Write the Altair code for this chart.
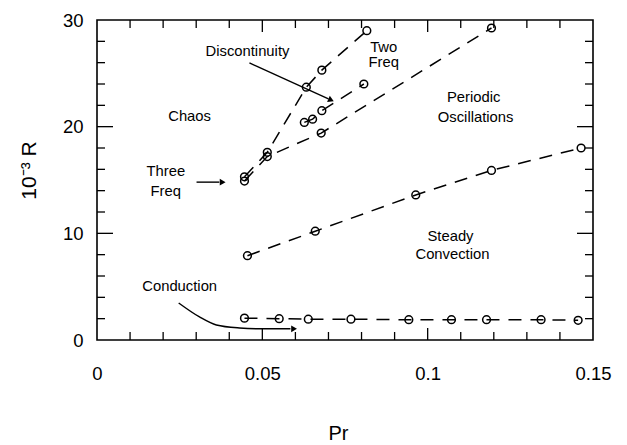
import altair as alt
import pandas as pd

# ---- data ----
cond_pr = [0.0446, 0.0551, 0.0639, 0.0768, 0.0943, 0.1072, 0.1178, 0.1343, 0.1455]
cond_r = [2.05, 2.0, 1.95, 1.95, 1.9, 1.9, 1.9, 1.9, 1.85]

steady_pr = [0.0455, 0.0660, 0.0964, 0.1193, 0.1464]
steady_r = [7.9, 10.2, 13.6, 15.9, 18.0]

two_upper_pr = [0.0446, 0.0515, 0.0633, 0.0680, 0.0816]
two_upper_r = [15.3, 17.6, 23.7, 25.3, 29.0]

two_mid_pr = [0.0627, 0.0652, 0.0680, 0.0807]
two_mid_r = [20.4, 20.7, 21.5, 24.0]

periodic_pr = [0.0446, 0.0515, 0.0678, 0.1193]
periodic_r = [14.9, 17.2, 19.4, 29.25]

# annotation labels
label_text = ["Chaos", "Discontinuity", "Two", "Freq", "Periodic", "Oscillations",
              "Three", "Freq", "Steady", "Convection", "Conduction"]
label_pr = [0.0280, 0.0455, 0.0867, 0.0867, 0.1139, 0.1145, 0.0208, 0.0208, 0.1069, 0.1075, 0.0250]
label_r = [20.9, 27.0, 27.4, 26.0, 22.7, 20.8, 15.75, 13.9, 9.66, 7.97, 4.97]

# arrows (shafts) in data units
arrow_id = ["disc", "disc", "three", "three",
            "cond", "cond", "cond", "cond", "cond", "cond"]
arrow_pr = [0.0461, 0.0700, 0.0301, 0.0370,
            0.0247, 0.0310, 0.0361, 0.0431, 0.0500, 0.0585]
arrow_r = [25.97, 22.6, 14.8, 14.8,
           3.47, 2.16, 1.41, 1.13, 1.05, 1.05]
head_pr = [0.0708, 0.0380, 0.0596]
head_r = [22.5, 14.8, 1.05]
head_angle = [24, 0, 0]

# axis ticks
x_major = [0.05, 0.1]
x_minor = [0.01, 0.02, 0.03, 0.04, 0.06, 0.07, 0.08, 0.09, 0.11, 0.12, 0.13, 0.14]
y_major = [10, 20]
y_minor = [2, 4, 6, 8, 12, 14, 16, 18, 22, 24, 26, 28]

W, H = 496, 320
FONT = "Liberation Sans"

lines = pd.DataFrame({
    "Pr": cond_pr + steady_pr + two_upper_pr + two_mid_pr + periodic_pr,
    "R": cond_r + steady_r + two_upper_r + two_mid_r + periodic_r,
    "series": (["cond"] * len(cond_pr) + ["steady"] * len(steady_pr)
               + ["upper"] * len(two_upper_pr) + ["mid"] * len(two_mid_pr)
               + ["periodic"] * len(periodic_pr)),
})

xs = alt.Scale(domain=[0, 0.15], nice=False, zero=False)
ys = alt.Scale(domain=[0, 30], nice=False, zero=False)

X = alt.X("Pr:Q", scale=xs, axis=alt.Axis(
    values=[0, 0.05, 0.1, 0.15], format="~g", title="Pr", grid=False,
    ticks=False, domain=False, labelPadding=24, labelFlush=False,
    labelFontSize=18.5, labelFont=FONT, labelColor="black",
    titleFontSize=20, titleFont=FONT, titleFontWeight="normal", titleColor="black",
    titleX=241, titleY=93, titleBaseline="middle"))
Y = alt.Y("R:Q", scale=ys, axis=alt.Axis(
    values=[0, 10, 20, 30], title="10⁻³ R", grid=False,
    ticks=False, domain=False, labelPadding=14,
    labelFontSize=18.5, labelFont=FONT, labelColor="black",
    titleFontSize=21, titleFont=FONT, titleFontWeight="normal", titleColor="black",
    titleX=-68, titleY=150, titleBaseline="middle"))

base = alt.Chart(lines)

line_layer = base.mark_line(color="black", strokeWidth=1.5, strokeDash=[13, 9]).encode(
    x=X, y=Y, detail="series:N", order="Pr:Q")
pts_layer = base.mark_point(shape="circle", filled=False, color="black", size=60,
                            strokeWidth=1.5, opacity=1).encode(
    x=alt.X("Pr:Q", scale=xs), y=alt.Y("R:Q", scale=ys))

labels = pd.DataFrame({"Pr": label_pr, "R": label_r, "t": label_text})
text_layer = alt.Chart(labels).mark_text(font=FONT, fontSize=14.8, color="black",
                                         align="center", baseline="middle").encode(
    x=alt.X("Pr:Q", scale=xs), y=alt.Y("R:Q", scale=ys), text="t:N")

arrows = pd.DataFrame({"Pr": arrow_pr, "R": arrow_r, "id": arrow_id,
                       "o": list(range(len(arrow_pr)))})
arrow_layer = alt.Chart(arrows).mark_line(color="black", strokeWidth=1.4,
                                          interpolate="monotone").encode(
    x=alt.X("Pr:Q", scale=xs), y=alt.Y("R:Q", scale=ys), detail="id:N", order="o:Q")
heads = pd.DataFrame({"Pr": head_pr, "R": head_r, "a": head_angle})
head_layer = alt.Chart(heads).mark_point(shape="triangle-right", filled=True,
                                         color="black", size=45, opacity=1).encode(
    x=alt.X("Pr:Q", scale=xs), y=alt.Y("R:Q", scale=ys),
    angle=alt.Angle("a:Q", scale=None))

def xticks(vals, length):
    d = pd.DataFrame({"Pr": vals})
    bottom = alt.Chart(d).mark_rule(color="black", strokeWidth=1.3).encode(
        x=alt.X("Pr:Q", scale=xs), y=alt.value(H), y2=alt.value(H - length))
    top = alt.Chart(d).mark_rule(color="black", strokeWidth=1.3).encode(
        x=alt.X("Pr:Q", scale=xs), y=alt.value(0), y2=alt.value(length))
    return [bottom, top]

def yticks(vals, length):
    d = pd.DataFrame({"R": vals})
    left = alt.Chart(d).mark_rule(color="black", strokeWidth=1.3).encode(
        y=alt.Y("R:Q", scale=ys), x=alt.value(0), x2=alt.value(length))
    right = alt.Chart(d).mark_rule(color="black", strokeWidth=1.3).encode(
        y=alt.Y("R:Q", scale=ys), x=alt.value(W), x2=alt.value(W - length))
    return [left, right]

tick_layers = xticks(x_major, 12) + xticks(x_minor, 8) + yticks(y_major, 16) + yticks(y_minor, 8)

chart = alt.layer(line_layer, pts_layer, text_layer, arrow_layer, head_layer,
                  *tick_layers).properties(
    width=W, height=H,
    padding={"left": 97, "top": 20, "right": 34, "bottom": 105},
    autosize=alt.AutoSizeParams(type="none"),
    background="white",
).configure_view(stroke="black", strokeWidth=1.6)

chart.save("out.html", embed_options={"renderer": "svg", "actions": False})
